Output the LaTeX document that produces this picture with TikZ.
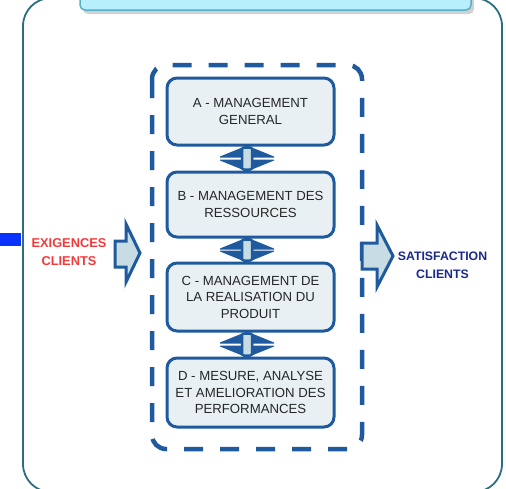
\documentclass[tikz,border=0pt]{standalone}
\usepackage{fontspec}
\setmainfont{Liberation Sans}
\usetikzlibrary{calc}
\definecolor{frameblue}{HTML}{1F5A9E}
\definecolor{boxfill}{HTML}{E9F0F4}
\definecolor{arrfill}{HTML}{C8DCE4}
\definecolor{outerc}{HTML}{2C6E7E}
\definecolor{bannerfill}{HTML}{B8EFFC}
\definecolor{bannerline}{HTML}{5BAEC8}
\definecolor{exred}{HTML}{F23A3A}
\definecolor{satblue}{HTML}{1A2A8C}
\definecolor{barblue}{HTML}{0A32FF}
\definecolor{txtgray}{HTML}{262626}
\pgfdeclarelayer{bg}
\pgfsetlayers{bg,main}
\tikzset{
  procbox/.style={draw=frameblue, line width=3pt, fill=boxfill, rounded corners=10pt,
    minimum width=167pt, align=center, text=txtgray, inner sep=0pt,
    font=\fontsize{13.2}{16.5}\selectfont},
  blockarr/.style={draw=frameblue, line width=3pt, fill=arrfill, line join=miter},
  sidetext/.style={align=center, font=\bfseries\fontsize{12.8}{18}\selectfont, inner sep=0pt},
}
\newcommand\dblarr[2]{%
  \begin{pgfonlayer}{bg}
  \fill[frameblue] let \p1=(#1.south), \p2=(#2.north) in
    (\x1-30.5pt,\y1-10pt) -- (\x1-3.5pt,\y1+1pt) -- (\x1+23.5pt,\y1-10pt)
    -- (\x1+23.5pt,\y1-11pt) -- (\x1+2.5pt,\y1-11pt) -- (\x1+2.5pt,\y2+11pt) -- (\x1+23.5pt,\y2+11pt)
    -- (\x1+23.5pt,\y2+10pt) -- (\x1-3.5pt,\y2-1pt)
    -- (\x1-30.5pt,\y2+10pt) -- (\x1-30.5pt,\y2+11pt) -- (\x1-9.5pt,\y2+11pt) -- (\x1-9.5pt,\y1-11pt)
    -- (\x1-30.5pt,\y1-11pt) -- cycle;
  \draw[frameblue, fill=arrfill, line width=2.5pt, rounded corners=2pt] let \p1=(#1.south), \p2=(#2.north) in
    (\x1-8.5pt,\y1-1pt) rectangle (\x1+1.5pt,\y2+1pt);
  \end{pgfonlayer}}
\begin{document}
\begin{tikzpicture}[x=1pt,y=-1pt]
\useasboundingbox (0,0) rectangle (506,488);
% outer frame
\draw[outerc, line width=1.8pt, rounded corners=28pt] (23,-2) rectangle (502,492);
% banner with shadow
\fill[black!18, rounded corners=5pt] (83,-20) rectangle (474,14);
\draw[bannerline, fill=bannerfill, line width=1.5pt, rounded corners=5pt] (80,-20) rectangle (471,10);
% left bar
\fill[barblue] (0,233) rectangle (21,246);
% dashed frame
\draw[frameblue, line width=4.5pt, rounded corners=14pt, dash pattern=on 19pt off 17pt]
  (152,65) rectangle (362,449);
% boxes
\node[procbox, minimum height=67pt] (A) at (250.5,111.5) {A - MANAGEMENT\\GENERAL};
\node[procbox, minimum height=65pt] (B) at (250.5,204.5) {B - MANAGEMENT DES\\RESSOURCES};
\node[procbox, minimum height=68pt] (C) at (250.5,297) {C - MANAGEMENT DE\\LA REALISATION DU\\PRODUIT};
\node[procbox, minimum height=69pt] (D) at (250.5,392.5) {D - MESURE, ANALYSE\\ET AMELIORATION DES\\PERFORMANCES};
\dblarr{A}{B}
\dblarr{B}{C}
\dblarr{C}{D}
% side texts
\node[sidetext, text=exred] (ex) at (69,252) {EXIGENCES\\CLIENTS};
\node[sidetext, text=satblue, font=\bfseries\fontsize{12.3}{18}\selectfont] (sat) at (442.5,265) {SATISFACTION\\CLIENTS};
% block arrows
\draw[blockarr] (115,241) -- (126,241) -- (126,224) -- (140,253) -- (126,282) -- (126,267) -- (115,267) -- cycle;
\draw[blockarr] (362,243) -- (377,243) -- (377,225) -- (393,256) -- (377,287) -- (377,269) -- (362,269) -- cycle;
\end{tikzpicture}
\end{document}
